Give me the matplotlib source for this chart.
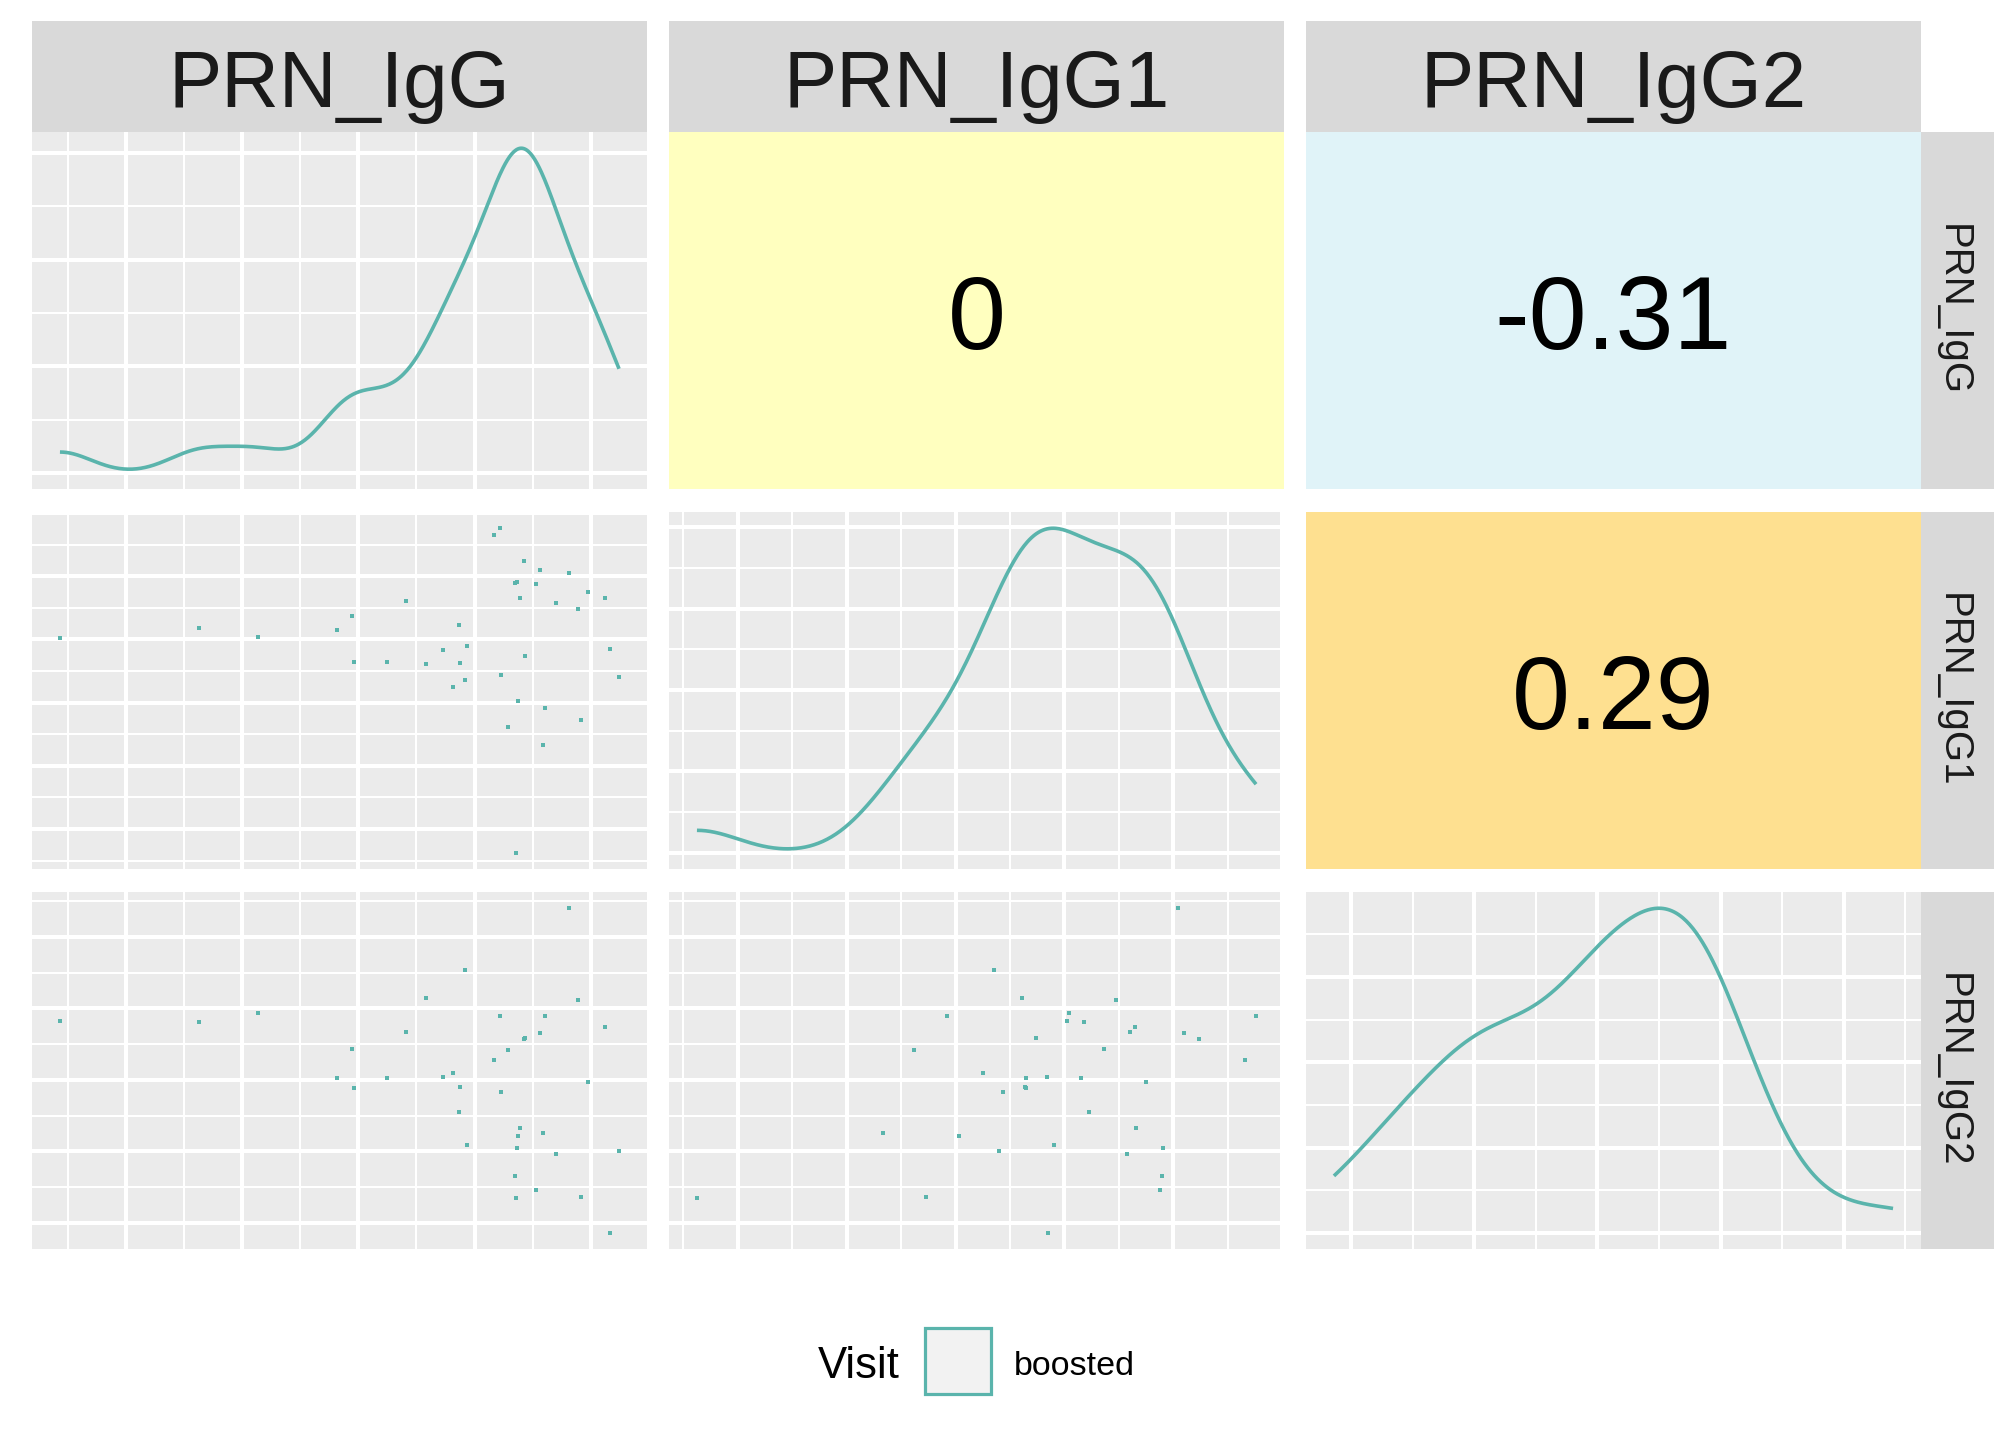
import numpy as np
import matplotlib
matplotlib.use("Agg")
from matplotlib import pyplot as plt
from matplotlib.patches import Rectangle

plt.rcParams["font.family"] = ["Liberation Sans", "DejaVu Sans"]

# DATA ---------------------------------------------------------------
var_names = ["PRN_IgG", "PRN_IgG1", "PRN_IgG2"]

prn_igg = [4.813, 3.918, 3.582, 4.888, 2.138, 0.433, 1.627, 4.220, 4.604, 5.123,
           3.410, 4.563, 4.425, 4.433, 4.287, 2.944, 4.168, 3.813, 2.817, 3.246,
           3.728, 4.974, 4.228, 2.963, 3.873, 3.866, 4.392, 4.586, 4.373, 3.933,
           4.366, 5.243, 4.701, 4.347, 4.530, 4.354, 4.914, 5.164]
prn_igg1 = [5.044, 3.353, 3.612, 4.475, 4.042, 4.022, 4.181, 5.760, 2.923, 4.649,
            4.603, 5.098, 5.238, 3.740, 2.618, 4.367, 5.659, 3.252, 4.150, 3.647,
            3.841, 4.750, 3.438, 3.647, 3.635, 4.224, 4.657, 2.335, 3.032, 3.902,
            4.905, 3.399, 4.576, 4.897, 4.878, 0.625, 2.726, 3.848]
prn_igg2 = [5.399, 4.536, 4.146, 4.118, 3.937, 3.826, 3.812, 3.896, 3.896, 3.742,
            3.673, 3.659, 3.575, 3.589, 3.422, 3.436, 3.283, 3.102, 3.032, 3.032,
            3.046, 2.963, 2.824, 2.879, 2.893, 2.545, 2.323, 2.253, 2.211, 2.086,
            2.044, 2.002, 1.961, 1.654, 1.459, 1.348, 1.362, 0.861]

visit_levels = ["boosted"]

# upper panels: (row, col) and the correlation shown
cor_rows = [0, 0, 1]
cor_cols = [1, 2, 2]
cor_values = [0, -0.31, 0.29]
cor_fills = ["#FFFFBF", "#E0F3F8", "#FEE090"]

# STYLE --------------------------------------------------------------
TEAL = "#5AB4AC"
PANEL_BG = "#EBEBEB"
STRIP_BG = "#D9D9D9"
STRIP_TXT = "#1A1A1A"

W, H = 2016, 1440
col_left = [32, 669, 1306]
row_top = [132, 512, 892]
pw, ph = 615, 357


def rect(left, top, width, height):
    """pixel box (from top-left) -> figure fraction"""
    return [left / W, 1 - (top + height) / H, width / W, height / H]


def density_nrd0(x, n=512):
    """gaussian kde over the data range, bw.nrd0 like R"""
    x = np.asarray(x, float)
    sd = x.std(ddof=1)
    q75, q25 = np.percentile(x, [75, 25])
    bw = 0.9 * min(sd, (q75 - q25) / 1.34) * len(x) ** -0.2
    grid = np.linspace(x.min(), x.max(), n)
    z = (grid[:, None] - x[None, :]) / bw
    dens = np.exp(-0.5 * z ** 2).sum(axis=1) / (len(x) * bw * np.sqrt(2 * np.pi))
    return grid, dens


def expand(lo, hi):
    r = hi - lo
    return lo - 0.05 * r, hi + 0.05 * r


def breaks(lo, hi):
    best = None
    for e in range(-3, 3):
        for m in [1, 2, 2.5, 5]:
            s = m * 10.0 ** e
            major = np.arange(np.ceil(lo / s - 1e-9), np.floor(hi / s + 1e-9) + 1) * s
            score = abs(len(major) - 5)
            if best is None or score < best[0]:
                best = (score, s, major)
    s, major = best[1], best[2]
    minor = np.concatenate([major - s / 2, [major[-1] + s / 2]])
    minor = minor[(minor > lo) & (minor < hi)]
    return major, minor


def style_panel(ax, xlim, ylim):
    ax.set_facecolor(PANEL_BG)
    ax.set_xlim(*xlim)
    ax.set_ylim(*ylim)
    xmaj, xmin = breaks(*xlim)
    ymaj, ymin = breaks(*ylim)
    ax.set_xticks(xmaj)
    ax.set_xticks(xmin, minor=True)
    ax.set_yticks(ymaj)
    ax.set_yticks(ymin, minor=True)
    ax.grid(which="major", color="white", lw=2.9)
    ax.grid(which="minor", color="white", lw=1.45)
    ax.set_axisbelow(True)
    ax.tick_params(which="both", length=0, labelbottom=False, labelleft=False)
    for sp in ax.spines.values():
        sp.set_visible(False)


data = [np.array(prn_igg), np.array(prn_igg1), np.array(prn_igg2)]
lims = [expand(d.min(), d.max()) for d in data]

fig = plt.figure(figsize=(W / 100, H / 100), dpi=100)
fig.patch.set_facecolor("white")

for i in range(3):
    for j in range(3):
        ax = fig.add_axes(rect(col_left[j], row_top[i], pw, ph))
        if i == j:
            gx, gy = density_nrd0(data[j])
            style_panel(ax, lims[j], expand(0, gy.max()))
            ax.plot(gx, gy, color=TEAL, lw=2.6, solid_capstyle="butt")
        elif i > j:
            style_panel(ax, lims[j], lims[i])
            ax.plot(data[j], data[i], "s", ms=2.9, mew=0, color=TEAL)
        else:
            k = [n for n in range(len(cor_rows)) if cor_rows[n] == i and cor_cols[n] == j][0]
            ax.set_facecolor(cor_fills[k])
            ax.set_xticks([])
            ax.set_yticks([])
            for sp in ax.spines.values():
                sp.set_visible(False)
            ax.text(0.5, 0.5 - 38 / ph, f"{cor_values[k]:g}", transform=ax.transAxes,
                    ha="center", va="baseline", fontsize=75, color="black")

# top strips
for j, name in enumerate(var_names):
    sax = fig.add_axes(rect(col_left[j], 21, pw, 111))
    sax.set_facecolor(STRIP_BG)
    sax.set_xticks([])
    sax.set_yticks([])
    for sp in sax.spines.values():
        sp.set_visible(False)
    sax.text(0.5, (132 - 107) / 111, name, transform=sax.transAxes, ha="center",
             va="baseline", fontsize=57.5, color=STRIP_TXT)

# right strips
for i, name in enumerate(var_names):
    sax = fig.add_axes(rect(1921, row_top[i], 73, ph))
    sax.set_facecolor(STRIP_BG)
    sax.set_xticks([])
    sax.set_yticks([])
    for sp in sax.spines.values():
        sp.set_visible(False)
    sax.text((1941.5 - 1921) / 73, 0.5, name, transform=sax.transAxes, rotation=270,
             rotation_mode="anchor", ha="center", va="baseline", fontsize=29,
             color=STRIP_TXT)

# legend at the bottom
fig.text(818 / W, 1 - 1378 / H, "Visit", ha="left", va="baseline", fontsize=31.5)
key = Rectangle((925 / W, 1 - 1394 / H), 66 / W, 66 / H, transform=fig.transFigure,
                facecolor="#F2F2F2", edgecolor=TEAL, lw=2.3)
fig.add_artist(key)
fig.text(1014 / W, 1 - 1375 / H, visit_levels[0], ha="left", va="baseline", fontsize=24.5)

fig.savefig("out.png", dpi=100)
